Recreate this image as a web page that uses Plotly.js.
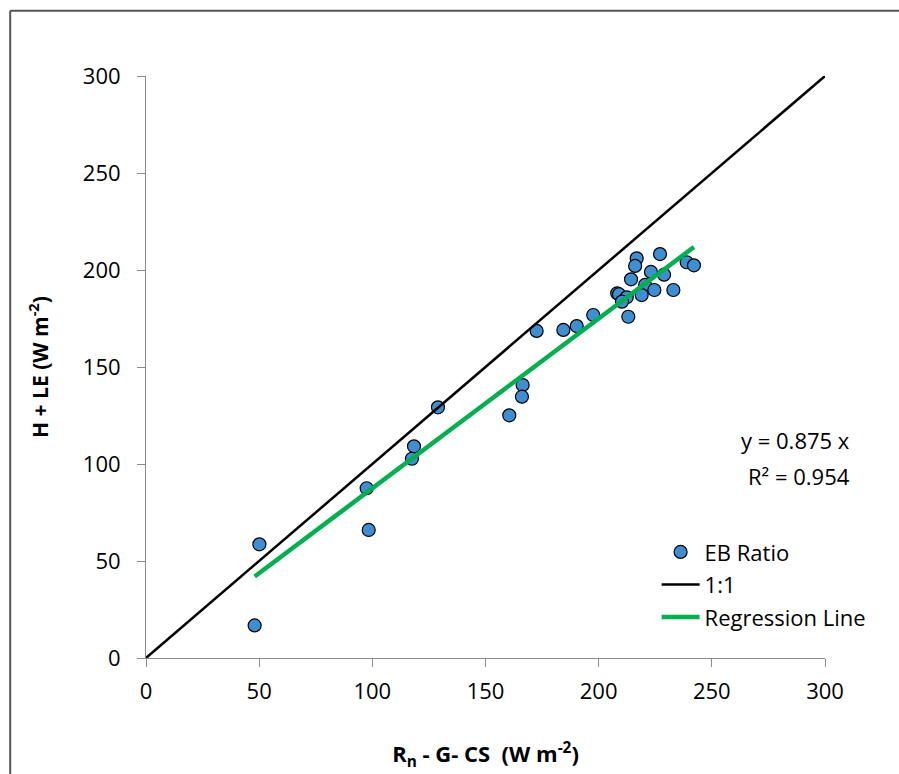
<!DOCTYPE html>
<html>
<head>
<meta charset="utf-8">
<script src="https://cdn.plot.ly/plotly-3.0.1.min.js"></script>
<style>html,body{margin:0;padding:0;background:#fff;}#chart{width:899px;height:774px;}</style>
</head>
<body>
<div id="chart"></div>
<script>
// Available energy (Rn - G - CS) vs turbulent fluxes (H + LE), W m-2
const availableEnergy = [216.8, 216.1, 227.1, 238.9, 242.1, 214.3, 223.1, 228.9, 220.5, 224.6,
  233.0, 208.2, 209.0, 212.4, 210.3, 219.0, 213.1, 197.6, 172.6, 184.4,
  190.3, 166.4, 166.1, 160.5, 50.1, 48.0, 97.5, 98.4, 118.4, 117.5, 129.0];
const turbulentFlux = [206.0, 202.1, 208.2, 204.0, 202.4, 195.2, 199.0, 197.6, 192.3, 189.7,
  189.7, 188.0, 187.5, 185.9, 183.7, 187.1, 175.9, 176.8, 168.6, 169.1,
  171.1, 140.7, 134.7, 125.1, 58.6, 16.8, 87.5, 66.0, 109.1, 102.7, 129.2];
const oneToOneX = [0, 300];
const oneToOneY = [0, 300];
const slope = 0.875;
const r2 = 0.954;
const xTicks = [0, 50, 100, 150, 200, 250, 300];
const yTicks = [0, 50, 100, 150, 200, 250, 300];

const xMin = Math.min(...availableEnergy);
const xMax = Math.max(...availableEnergy);
const regX = [xMin, xMax];
const regY = regX.map(v => slope * v);

const font = "'Open Sans', 'Noto Sans', sans-serif";

const traces = [
  {
    x: availableEnergy, y: turbulentFlux, mode: 'markers', type: 'scatter', name: 'EB Ratio',
    legendgroup: 'a',
    marker: {size: 13, color: '#3d8fd1', line: {color: '#000', width: 1.2}}
  },
  {
    x: oneToOneX, y: oneToOneY, mode: 'lines', type: 'scatter', name: '1:1',
    legendgroup: 'b',
    line: {color: '#000', width: 2.5}
  },
  {
    x: regX, y: regY, mode: 'lines', type: 'scatter', name: 'Regression Line',
    legendgroup: 'c',
    line: {color: '#00b050', width: 4.5}
  }
];

const layout = {
  width: 899, height: 774,
  margin: {l: 146, r: 74, t: 76, b: 116},
  paper_bgcolor: '#fff', plot_bgcolor: '#fff',
  font: {family: font, size: 22, color: '#000'},
  showlegend: true,
  legend: {x: 0.752, y: 0.218, xanchor: 'left', yanchor: 'top', bgcolor: 'rgba(0,0,0,0)',
    font: {family: font, size: 22, color: '#000'}, traceorder: 'grouped', tracegroupgap: 1, itemwidth: 38},
  xaxis: {
    range: [0, 300], tickvals: xTicks, ticktext: xTicks.map(String),
    showgrid: false, zeroline: false, showline: true, linecolor: '#8c8c8c', linewidth: 1,
    ticks: 'outside', ticklen: 8, tickcolor: '#8c8c8c', ticklabelstandoff: 6,
    tickfont: {family: font, size: 22},
    title: {text: '<b>R<sub>n</sub> - G- CS&nbsp;&nbsp;(W m<sup>-2</sup>)</b>', font: {family: font, size: 22}, standoff: 42}
  },
  yaxis: {
    range: [0, 300], tickvals: yTicks, ticktext: yTicks.map(String),
    showgrid: false, zeroline: false, showline: true, linecolor: '#8c8c8c', linewidth: 1,
    ticks: 'outside', ticklen: 8, tickcolor: '#8c8c8c', ticklabelstandoff: 12,
    tickfont: {family: font, size: 22},
    title: {text: '<b>H + LE (W m<sup>-2</sup>)</b>', font: {family: font, size: 21}, standoff: 28}
  },
  annotations: [
    {xref: 'paper', yref: 'paper', x: 1.04, y: 0.374, xanchor: 'right', yanchor: 'middle', showarrow: false,
      text: 'y = ' + slope.toFixed(3) + ' x', font: {family: font, size: 22}},
    {xref: 'paper', yref: 'paper', x: 1.04, y: 0.312, xanchor: 'right', yanchor: 'middle', showarrow: false,
      text: 'R² = ' + r2.toFixed(3), font: {family: font, size: 22}}
  ],
  shapes: [
    {type: 'line', xref: 'paper', yref: 'paper', x0: -0.2, x1: -0.2, y0: 1.112, y1: -0.25,
      line: {color: '#555', width: 2}},
    {type: 'line', xref: 'paper', yref: 'paper', x0: -0.2, x1: 1.2, y0: 1.112, y1: 1.112,
      line: {color: '#555', width: 2}}
  ]
};

Plotly.newPlot('chart', traces, layout, {displayModeBar: false, staticPlot: true});
</script>
</body>
</html>
